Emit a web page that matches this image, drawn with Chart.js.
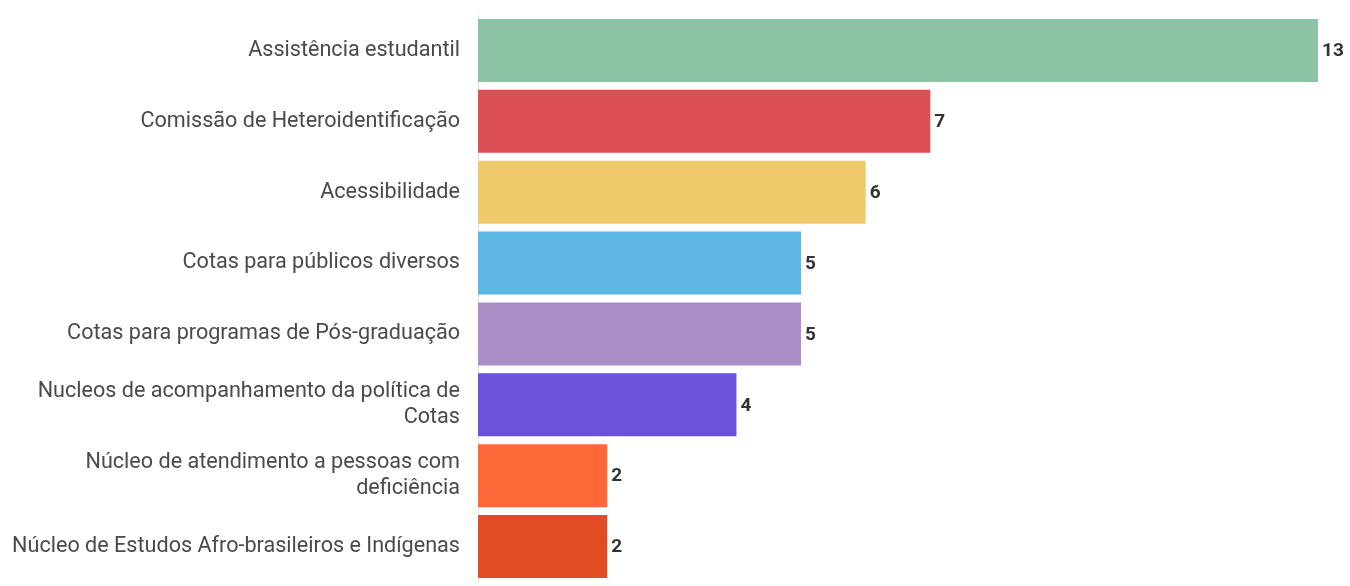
<!DOCTYPE html>
<html>
<head>
<meta charset="utf-8">
<script src="https://cdn.jsdelivr.net/npm/chart.js"></script>
<style>
	html, body { margin: 0; padding: 0; background: #fff; }
	#wrap { width: 1350px; height: 586px; position: relative; }
</style>
</head>
<body>
<div id="wrap"><canvas id="chart"></canvas></div>
<script>
// categories and values
const categories = [
	'Assistência estudantil',
	'Comissão de Heteroidentificação',
	'Acessibilidade',
	'Cotas para públicos diversos',
	'Cotas para programas de Pós-graduação',
	['Nucleos de acompanhamento da política de', 'Cotas'],
	['Núcleo de atendimento a pessoas com', 'deficiência'],
	'Núcleo de Estudos Afro-brasileiros e Indígenas'
];
const counts = [13, 7, 6, 5, 5, 4, 2, 2];
const barColors = ['#8cc3a5', '#dc5055', '#efc96a', '#5eb6e3', '#a98fc6', '#6c51da', '#fd6836', '#e34c22'];

// draws the number at the end of each bar
const valueLabels = {
	id: 'valueLabels',
	afterDatasetsDraw(chart) {
		const ctx = chart.ctx;
		const meta = chart.getDatasetMeta(0);
		ctx.save();
		ctx.font = 'bold 19px Roboto';
		ctx.fillStyle = '#333';
		ctx.textAlign = 'left';
		ctx.textBaseline = 'middle';
		meta.data.forEach((bar, i) => {
			ctx.fillText(String(counts[i]), bar.x + 4, bar.y + 1);
		});
		ctx.restore();
	}
};

new Chart(document.getElementById('chart'), {
	type: 'bar',
	data: {
		labels: categories,
		datasets: [{
			data: counts,
			backgroundColor: barColors,
			borderWidth: 0,
			categoryPercentage: 1,
			barPercentage: 0.89
		}]
	},
	options: {
		indexAxis: 'y',
		responsive: true,
		maintainAspectRatio: false,
		animation: false,
		layout: { padding: { top: 15, bottom: 4, right: 32, left: 0 } },
		scales: {
			x: { display: false, min: 0, max: 13 },
			y: {
				afterFit: (scale) => {
					scale.width = 478;
					scale.paddingTop = 0;
					scale.paddingBottom = 0;
				},
				grid: { display: false },
				border: { display: true, color: '#e3e3e3', width: 1 },
				ticks: {
					color: '#4a4a4a',
					padding: 10,
					font: { family: 'Roboto', size: 21.6, lineHeight: 1.22 }
				}
			}
		},
		plugins: {
			legend: { display: false },
			tooltip: { enabled: false }
		}
	},
	plugins: [valueLabels]
});
</script>
</body>
</html>
